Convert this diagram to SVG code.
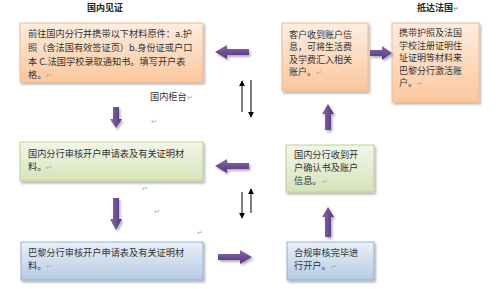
<svg xmlns="http://www.w3.org/2000/svg" width="500" height="289" viewBox="0 0 500 289">
<defs>
<linearGradient id="gOr" x1="0" y1="0" x2="0" y2="1"><stop offset="0" stop-color="#fdeee2"/><stop offset="1" stop-color="#fbc79c"/></linearGradient>
<linearGradient id="gGr" x1="0" y1="0" x2="0" y2="1"><stop offset="0" stop-color="#f2f6e9"/><stop offset="1" stop-color="#d6e3b8"/></linearGradient>
<linearGradient id="gBl" x1="0" y1="0" x2="0" y2="1"><stop offset="0" stop-color="#eaf0f8"/><stop offset="1" stop-color="#b6cbe4"/></linearGradient>
<linearGradient id="gPh" x1="0" y1="0" x2="0" y2="1"><stop offset="0" stop-color="#8c6cb0"/><stop offset="0.5" stop-color="#6e4d94"/><stop offset="1" stop-color="#563676"/></linearGradient>
<linearGradient id="gPv" x1="0" y1="0" x2="1" y2="0"><stop offset="0" stop-color="#8c6cb0"/><stop offset="0.5" stop-color="#6e4d94"/><stop offset="1" stop-color="#563676"/></linearGradient>
<filter id="sh" x="-10%" y="-10%" width="125%" height="130%"><feDropShadow dx="1.5" dy="2" stdDeviation="1.2" flood-color="#000" flood-opacity="0.3"/></filter>
<marker id="ah" viewBox="0 0 8 8" refX="7" refY="4" markerWidth="6" markerHeight="6" orient="auto" markerUnits="userSpaceOnUse"><path d="M0,0 L8,4 L0,8 z" fill="#000"/></marker>
</defs>
<style>
text{font-family:"Noto Sans CJK SC","Noto Sans CJK TC",sans-serif;font-size:9.2px;fill:#333}
.s{font-size:9px}
.t{font-weight:bold;fill:#222;font-size:9px}
.pm{fill:#aaa;font-size:7px}
.or{fill:url(#gOr);stroke:#f5b98a;stroke-width:1;filter:url(#sh)}
.gr{fill:url(#gGr);stroke:#bfd297;stroke-width:1;filter:url(#sh)}
.bl{fill:url(#gBl);stroke:#92afd5;stroke-width:1;filter:url(#sh)}
.ph{fill:url(#gPh);filter:url(#sh)}
.pv{fill:url(#gPv);filter:url(#sh)}
.ln{stroke:#000;stroke-width:1;fill:none;marker-end:url(#ah)}
</style>
<rect width="500" height="289" fill="#fff"/>
<text class="t" x="105" y="10.5" text-anchor="middle">国内见证</text>
<text class="t" x="417" y="10.5">抵达法国<tspan class="pm">↵</tspan></text>
<text x="150" y="100">国内柜台<tspan class="pm">↵</tspan></text>
<text class="pm" x="151" y="124">↵</text>
<text class="pm" x="142" y="191">↵</text>
<text class="pm" x="154" y="214">↵</text>
<text class="pm" x="197" y="235">↵</text>

<g id="n1"><rect class="or" x="20" y="23" width="183" height="59"/>
<text x="28" y="37">前往国内分行并携带以下材料原件：a.护</text>
<text x="28" y="51">照（含法国有效签证页）b.身份证或户口</text>
<text x="28" y="65">本 C.法国学校录取通知书。填写开户表</text>
<text x="28" y="78">格。<tspan class="pm">↵</tspan></text></g>

<g id="n2"><rect class="or" x="282" y="23" width="86" height="68"/>
<text class="s" x="289" y="37.5">客户收到账户信</text>
<text class="s" x="289" y="50">息，可将生活费</text>
<text class="s" x="289" y="62.5">及学费汇入相关</text>
<text class="s" x="289" y="75">账户。<tspan class="pm">↵</tspan></text></g>

<g id="n3"><rect class="or" x="392" y="23" width="87" height="79"/>
<text class="s" x="399" y="36">携带护照及法国</text>
<text class="s" x="399" y="48.5">学校注册证明住</text>
<text class="s" x="399" y="61">址证明等材料来</text>
<text class="s" x="399" y="73.5">巴黎分行激活账</text>
<text class="s" x="399" y="86">户。<tspan class="pm">↵</tspan></text></g>

<g id="n4"><rect class="gr" x="20" y="142" width="183" height="39"/>
<text x="28" y="157">国内分行审核开户申请表及有关证明材</text>
<text x="28" y="170">料。<tspan class="pm">↵</tspan></text></g>

<g id="n5"><rect class="gr" x="286" y="145" width="88" height="47"/>
<text x="294" y="158">国内分行收到开</text>
<text x="294" y="171">户确认书及账户</text>
<text x="294" y="184">信息。<tspan class="pm">↵</tspan></text></g>

<g id="n6"><rect class="bl" x="21" y="242" width="182" height="38"/>
<text x="28" y="256">巴黎分行审核开户申请表及有关证明材</text>
<text x="28" y="269">料。<tspan class="pm">↵</tspan></text></g>

<g id="n7"><rect class="bl" x="287" y="242" width="87" height="38"/>
<text x="294" y="256">合规审核完毕进</text>
<text x="294" y="269">行开户。<tspan class="pm">↵</tspan></text></g>

<g id="connectors">
<polygon class="ph" points="215,52 227,45 227,49 249,49 249,55 227,55 227,59"/>
<polygon class="ph" points="370,50 382,50 382,46 392,53 382,60 382,56 370,56"/>
<polygon class="ph" points="215,166 227,159 227,163 249,163 249,169 227,169 227,173"/>
<polygon class="ph" points="218,254 240,254 240,250 252,257 240,264 240,260 218,260"/>
<polygon class="pv" points="328,104 334,114 331,114 331,130 325,130 325,114 322,114"/>
<polygon class="pv" points="328,207 334,217 331,217 331,237 325,237 325,217 322,217"/>
<polygon class="pv" points="113,107 119,107 119,119 122,119 116,128 110,119 113,119"/>
<polygon class="pv" points="113,198 119,198 119,219 122,219 116,230 110,219 113,219"/>
<line class="ln" x1="242" y1="112" x2="242" y2="81"/>
<line class="ln" x1="251" y1="80" x2="251" y2="117"/>
<line class="ln" x1="242" y1="192" x2="242" y2="218"/>
<line class="ln" x1="251" y1="213" x2="251" y2="189"/>
</g>
</svg>
